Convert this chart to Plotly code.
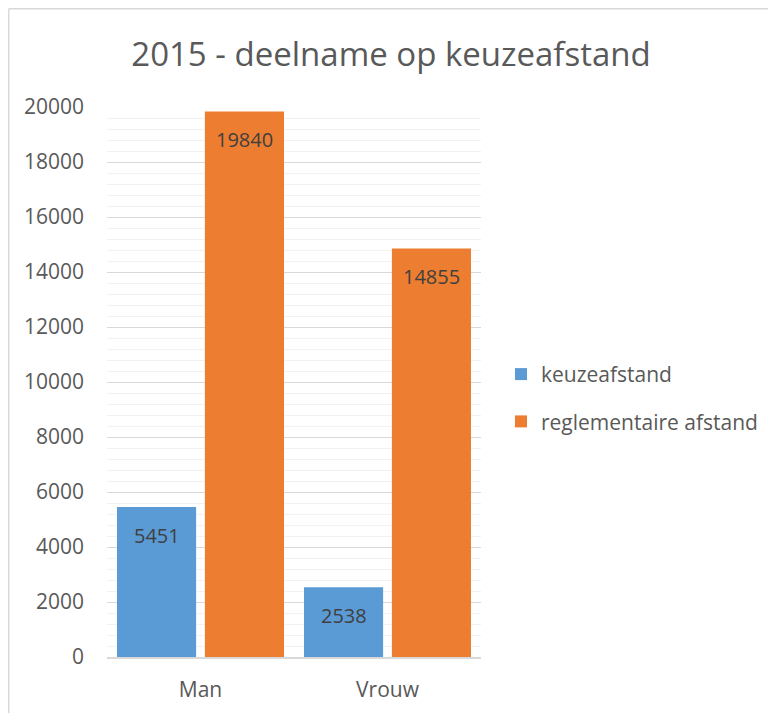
import plotly.graph_objects as go

categories = ["Man", "Vrouw"]
keuzeafstand = [5451, 2538]
reglementair = [19840, 14855]
series_names = ["keuzeafstand", "reglementaire afstand"]
colors = ["#5b9bd5", "#ed7d31"]
y_ticks = list(range(0, 20001, 2000))

FONT = "Open Sans"

fig = go.Figure()
for name, vals, col in zip(series_names, [keuzeafstand, reglementair], colors):
    fig.add_trace(go.Bar(
        x=categories, y=vals, name=name, marker=dict(color=col, line=dict(width=0)),
        legendgroup=name,
    ))

# data labels (inside end, as in Excel)
offsets = [-43.5, 43.5]
annotations = []
for vals, dx in zip([keuzeafstand, reglementair], offsets):
    for c, v in zip(categories, vals):
        annotations.append(dict(
            x=c, y=v, xref="x", yref="y", text=str(v), showarrow=False,
            xshift=dx, yshift=-13, yanchor="top", xanchor="center",
            font=dict(family=FONT, size=20, color="#404040"),
        ))

# page is offset by 8px (body margin), so positions are expressed in figure px
OFF = 8
W, H = 776, 713
L, T = 107 - OFF, 107 - OFF
R, B = W - (481 - OFF), H - (657 - OFF)
pw, ph = W - L - R, H - T - B
bx = (0.75 - L) / pw
by = 1 + (T - 0.75) / ph

fig.update_layout(
    width=W, height=H,
    margin=dict(l=L, r=R, t=T, b=B, pad=0),
    paper_bgcolor="white", plot_bgcolor="white",
    barmode="group", bargap=0.06, bargroupgap=0.1,
    title=dict(text="2015 - deelname op keuzeafstand", x=(391 - OFF) / W, xanchor="center",
               y=1 - (54 - OFF) / H, yanchor="middle",
               font=dict(family=FONT, size=33, color="#595959")),
    font=dict(family=FONT, size=20, color="#595959"),
    legend=dict(x=(501 - OFF - L) / pw, xanchor="left", y=0.471, yanchor="middle",
                font=dict(family=FONT, size=21, color="#595959"),
                tracegroupgap=17, bgcolor="rgba(0,0,0,0)"),
    showlegend=True,
    annotations=annotations,
    shapes=[
        dict(type="line", xref="paper", yref="paper", x0=bx, x1=bx, y0=by, y1=-0.2,
             line=dict(color="#d9d9d9", width=1.5)),
        dict(type="line", xref="paper", yref="paper", x0=bx, x1=1.9, y0=by, y1=by,
             line=dict(color="#d9d9d9", width=1.5)),
    ],
)
fig.update_yaxes(range=[0, 20000], tickvals=y_ticks, tickformat="d",
                 showgrid=True, gridcolor="#d9d9d9", gridwidth=1,
                 minor=dict(dtick=400, showgrid=True, gridcolor="#f2f2f2", gridwidth=1),
                 zeroline=False, showline=False, ticks="",
                 tickfont=dict(family=FONT, size=21, color="#595959"),
                 ticklabelstandoff=22, fixedrange=True)
fig.update_xaxes(showline=True, linecolor="#d9d9d9", linewidth=1.5, ticks="",
                 tickfont=dict(family=FONT, size=21, color="#595959"),
                 ticklabelstandoff=13, fixedrange=True)

fig.write_html("out.html")
